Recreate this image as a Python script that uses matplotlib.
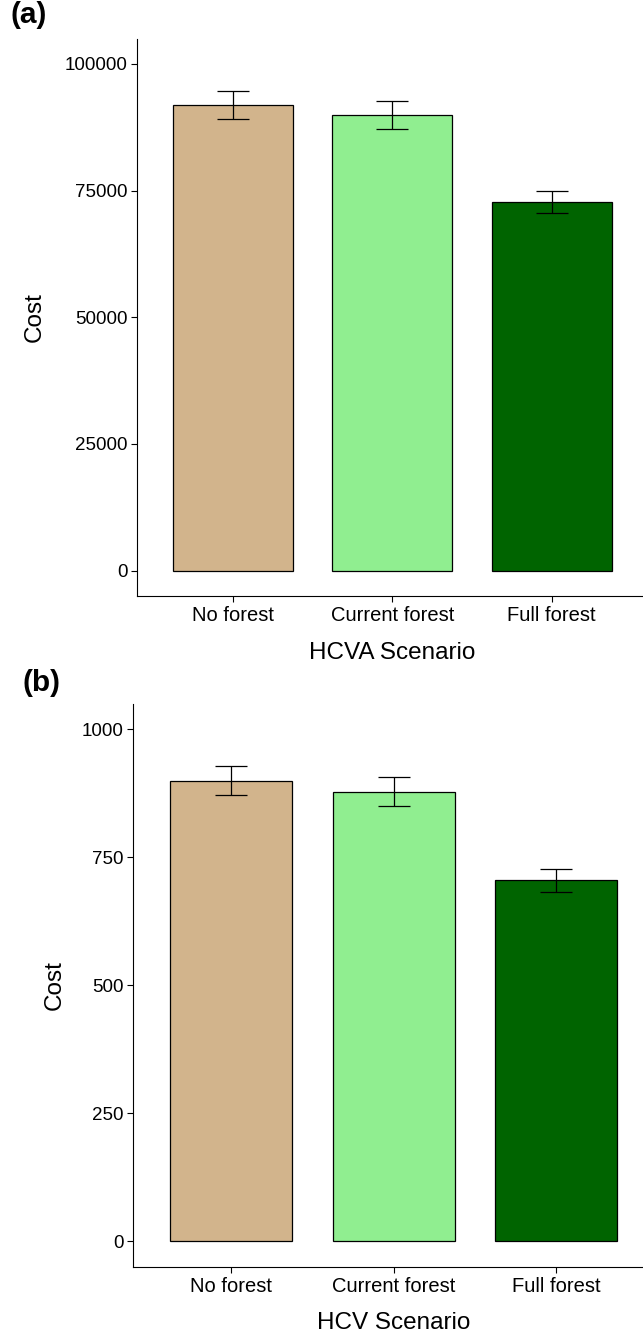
import numpy as np
import matplotlib.pyplot as plt

plt.rcParams['font.family'] = ['Liberation Sans', 'DejaVu Sans']

scenarios = ["No forest", "Current forest", "Full forest"]
bar_colors = ["#D2B48C", "#90EE90", "#006400"]

# mean cost and standard error per scenario
hcva_cost = [91900, 89900, 72750]
hcva_se = [2800, 2730, 2130]
hcv_cost = [900, 878, 705]
hcv_se = [28, 28, 22.5]

hcva_ticks = [0, 25000, 50000, 75000, 100000]
hcv_ticks = [0, 250, 500, 750, 1000]

fig = plt.figure(figsize=(6.43, 13.35), dpi=100)
ax_a = fig.add_axes([0.2131, 0.5536, 0.7938, 0.4175])
ax_b = fig.add_axes([0.2073, 0.0509, 0.8098, 0.4220])


def draw_panel(ax, cost, se, ticks, xlabel, ylabel_x, xlabel_y):
    x = np.arange(1, len(scenarios) + 1)
    ax.bar(x, cost, width=0.75, color=bar_colors, edgecolor="black", linewidth=0.9, zorder=2)
    ax.errorbar(x, cost, yerr=se, fmt="none", ecolor="black", elinewidth=0.9,
                capsize=11.5, capthick=0.9, zorder=3)
    ax.set_xlim(0.4, 3.6)
    top = ticks[-1]
    ax.set_ylim(-0.05 * top, 1.05 * top)
    ax.set_xticks(x)
    ax.set_xticklabels(scenarios)
    ax.set_yticks(ticks)
    ax.set_yticklabels([str(t) for t in ticks])
    for side in ["top", "right"]:
        ax.spines[side].set_visible(False)
    for side in ["left", "bottom"]:
        ax.spines[side].set_linewidth(0.8)
    ax.tick_params(axis="both", length=4, width=0.8, pad=3, colors="black")
    ax.tick_params(axis="x", labelsize=14.5)
    ax.tick_params(axis="y", labelsize=13.5)
    ax.set_xlabel(xlabel, fontsize=17.5, va="center")
    ax.set_ylabel("Cost", fontsize=17.5, va="center")
    ax.xaxis.set_label_coords(0.5, xlabel_y)
    ax.yaxis.set_label_coords(ylabel_x, 0.5)


draw_panel(ax_a, hcva_cost, hcva_se, hcva_ticks, "HCVA Scenario", -0.200, -0.102)
draw_panel(ax_b, hcv_cost, hcv_se, hcv_ticks, "HCV Scenario", -0.150, -0.099)

fig.text(10 / 643, 1 - 15 / 1335, "(a)", fontsize=21.5, fontweight="bold", va="center", ha="left")
fig.text(22 / 643, 1 - 683 / 1335, "(b)", fontsize=21.5, fontweight="bold", va="center", ha="left")

plt.savefig("out.png", dpi=100)
